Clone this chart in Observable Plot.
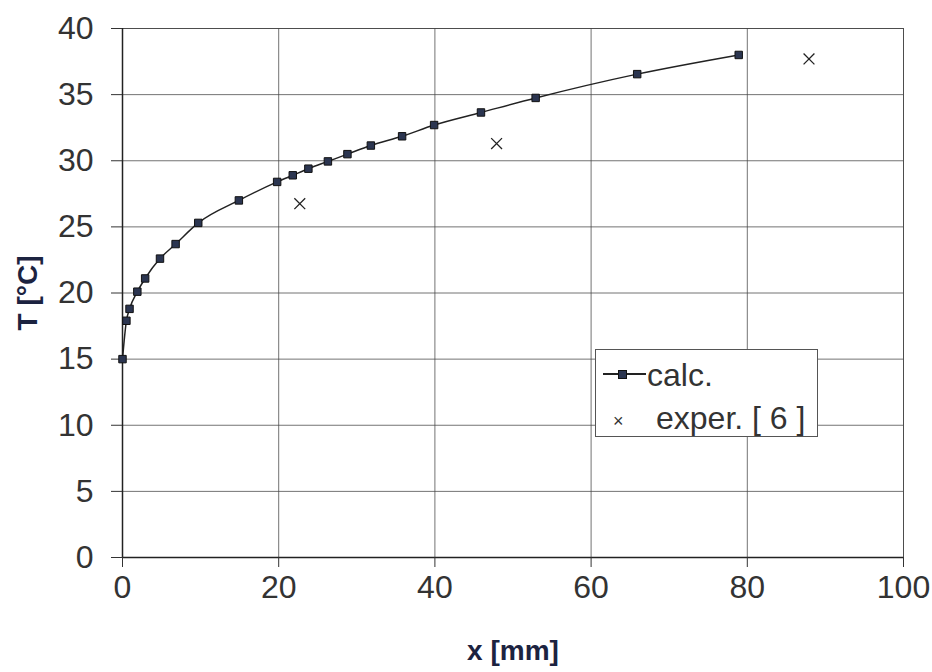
<!DOCTYPE html>
<html>
<head>
<meta charset="utf-8">
<script src="https://cdn.jsdelivr.net/npm/d3@7"></script>
<script src="https://cdn.jsdelivr.net/npm/@observablehq/plot@0.6"></script>
<style>
  html, body { margin: 0; padding: 0; background: #fff; }
  #wrap { position: relative; width: 932px; height: 672px; font-family: "Liberation Sans", Arial, sans-serif; }
  #wrap svg g[aria-label="x-axis label"] text,
  #wrap svg g[aria-label="y-axis label"] text { font-weight: bold; fill: #1c2340; font-size: 28px; }
  #wrap svg g[aria-label="x-axis tick label"] text,
  #wrap svg g[aria-label="y-axis tick label"] text { fill: #333; }
  #legend { position: absolute; left: 595px; top: 349px; width: 223px; height: 88px; box-sizing: border-box;
    border: 1px solid #555; background: #fff; font-size: 32px; color: #333; }
  .row { position: absolute; left: 0; height: 32px; line-height: 32px; white-space: nowrap; }
  .sym { position: absolute; }
</style>
</head>
<body>
<div id="wrap">
  <div id="legend">
    <div class="row" style="top:9px;">
      <span class="sym" style="left:7px; top:14px; width:43px; height:2px; background:#222;"></span>
      <span class="sym" style="left:22px; top:11px; width:7px; height:7px; background:#2b3550; border:1px solid #111;"></span>
      <span style="position:absolute; left:51px;">calc.</span>
    </div>
    <div class="row" style="top:52px;">
      <span style="position:absolute; left:17px; top:3px; font-size:18px;">×</span>
      <span style="position:absolute; left:60px;">exper. [ 6 ]</span>
    </div>
  </div>
</div>
<script>
const calcX = [0, 0.5, 0.9, 1.9, 2.9, 4.8, 6.8, 9.7, 14.9, 19.8, 21.8, 23.8, 26.3, 28.8, 31.8, 35.8, 39.9, 45.9, 52.9, 65.9, 78.9];
const calcT = [15.0, 17.9, 18.8, 20.1, 21.1, 22.6, 23.7, 25.3, 27.0, 28.4, 28.9, 29.4, 29.95, 30.5, 31.15, 31.85, 32.7, 33.65, 34.75, 36.55, 38.0];
const expX = [22.7, 47.9, 87.9];
const expT = [26.75, 31.3, 37.7];
const xTicks = [0, 20, 40, 60, 80, 100];
const yTicks = [0, 5, 10, 15, 20, 25, 30, 35, 40];

const calc = calcX.map((x, i) => ({x, T: calcT[i]}));
const exper = expX.map((x, i) => ({x, T: expT[i]}));

const chart = Plot.plot({
  width: 932,
  height: 672,
  marginLeft: 122,
  marginRight: 29,
  marginTop: 28,
  marginBottom: 115,
  style: {fontFamily: "'Liberation Sans', Arial, sans-serif", fontSize: "32px", color: "#333", background: "transparent"},
  x: {domain: [0, 100], ticks: xTicks, label: "x [mm]"},
  y: {domain: [0, 40], ticks: yTicks, label: "T [°C]"},
  marks: [
    Plot.gridX(xTicks, {stroke: "#444", strokeOpacity: 0.75}),
    Plot.gridY(yTicks, {stroke: "#444", strokeOpacity: 0.75}),
    Plot.frame({stroke: "#444", strokeOpacity: 0.8}),
    Plot.ruleX([0], {stroke: "#222", strokeWidth: 1.5}),
    Plot.ruleY([0], {stroke: "#222", strokeWidth: 1.5}),
    Plot.axisX({ticks: xTicks, tickSize: 10, tickPadding: 8, fontSize: 32, label: "x [mm]", labelAnchor: "center", labelArrow: "none", labelOffset: 102}),
    Plot.axisY({ticks: yTicks, tickSize: 11, tickPadding: 18, fontSize: 32, label: "T [°C]", labelAnchor: "center", labelArrow: "none", labelOffset: 105}),
    Plot.line(calc, {x: "x", y: "T", curve: "monotone-x", stroke: "#222", strokeWidth: 1.5}),
    Plot.dot(calc, {x: "x", y: "T", symbol: "square", r: 4.2, fill: "#2b3550", stroke: "#111", strokeWidth: 1}),
    Plot.dot(exper, {x: "x", y: "T", symbol: "times", r: 5, stroke: "#222", strokeWidth: 1.3})
  ]
});
document.getElementById("wrap").prepend(chart);
</script>
</body>
</html>
